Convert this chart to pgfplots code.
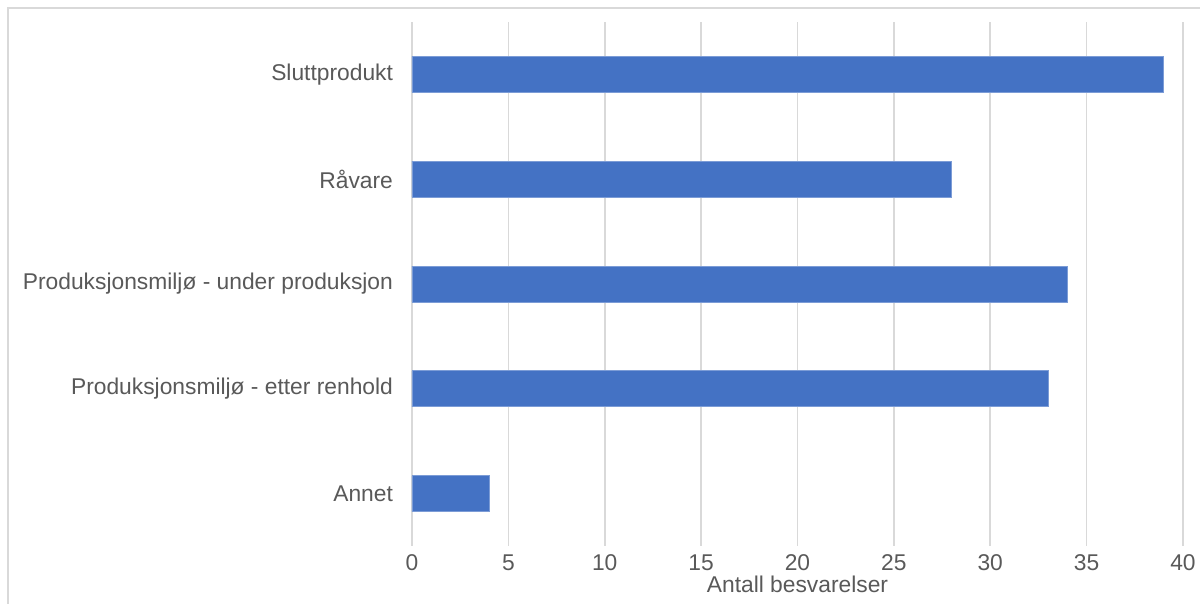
\documentclass[border=0pt]{standalone}
\usepackage{pgfplots}
\pgfplotsset{compat=1.18}
\usepackage{fontspec}
\setmainfont{Liberation Sans}
\definecolor{barblue}{HTML}{4472C4}
\definecolor{txtgray}{HTML}{595959}
\definecolor{gridgray}{HTML}{D9D9D9}
\begin{document}
\begin{tikzpicture}[x=1pt,y=1pt]
\useasboundingbox (-206,-29) rectangle (394,273);
\draw[gridgray, line width=1pt] (-202,-29) -- (-202,269) -- (394,269);
\begin{axis}[
  at={(0,0)}, anchor=south west,
  scale only axis,
  width=385.5pt, height=262pt,
  xbar,
  bar width=18pt,
  xmin=0, xmax=40,
  ymin=-0.5, ymax=4.5,
  xtick={0,5,...,40},
  ytick={0,1,2,3,4},
  yticklabels={Annet, Produksjonsmiljø - etter renhold, Produksjonsmiljø - under produksjon, Råvare, Sluttprodukt},
  axis line style={draw=none},
  major tick length=0pt,
  xmajorgrids,
  grid style={gridgray, line width=0.8pt},
  ticklabel style={font=\fontsize{11.4}{13}\selectfont, text=txtgray},
  /pgf/number format/assume math mode=true,
  xticklabel style={yshift=-1pt},
  yticklabel style={xshift=-6pt},
  xlabel={Antall besvarelser},
  xlabel style={font=\fontsize{11.4}{13}\selectfont, text=txtgray, yshift=4.5pt},
  clip=false,
]
\addplot[fill=barblue, draw=barblue!70!white, line width=0.4pt] coordinates {
(4,0) (33,1) (34,2) (28,3) (39,4)};
\end{axis}
\end{tikzpicture}
\end{document}
